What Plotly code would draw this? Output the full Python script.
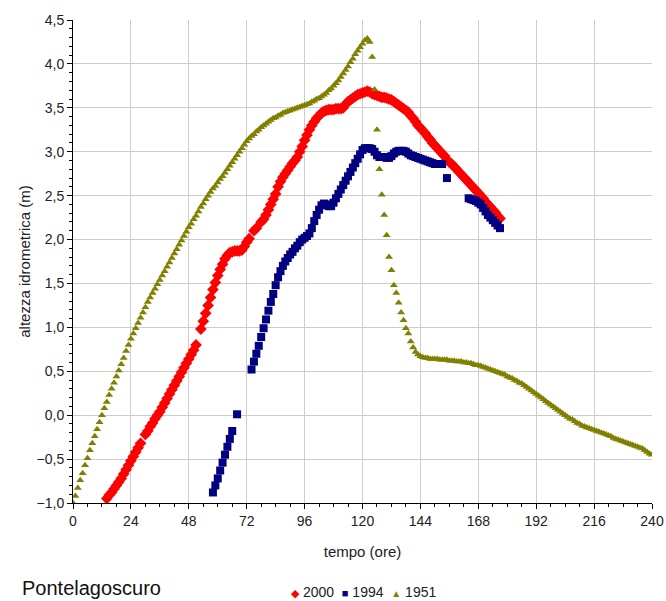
import plotly.graph_objects as go

# ---- data ----
hours_1951 = list(range(0, 241))
level_1951 = [
    -1.00, -0.92, -0.83, -0.74, -0.66, -0.57, -0.49, -0.40, -0.32, -0.24,
    -0.16, -0.08, 0.00, 0.08, 0.15, 0.23, 0.30, 0.37, 0.44, 0.51,
    0.58, 0.65, 0.73, 0.80, 0.87, 0.93, 0.99, 1.05, 1.11, 1.17,
    1.23, 1.29, 1.34, 1.39, 1.44, 1.49, 1.54, 1.59, 1.64, 1.69,
    1.74, 1.79, 1.84, 1.89, 1.94, 1.99, 2.04, 2.09, 2.14, 2.18,
    2.23, 2.27, 2.32, 2.37, 2.41, 2.46, 2.50, 2.54, 2.58, 2.61,
    2.65, 2.69, 2.72, 2.76, 2.80, 2.84, 2.88, 2.92, 2.96, 3.00,
    3.04, 3.08, 3.12, 3.15, 3.18, 3.20, 3.23, 3.25, 3.28, 3.30,
    3.32, 3.34, 3.36, 3.38, 3.39, 3.41, 3.42, 3.44, 3.45, 3.46,
    3.47, 3.48, 3.49, 3.50, 3.51, 3.52, 3.53, 3.54, 3.55, 3.57,
    3.58, 3.60, 3.61, 3.63, 3.65, 3.67, 3.70, 3.72, 3.75, 3.78,
    3.81, 3.85, 3.89, 3.93, 3.97, 4.02, 4.06, 4.11, 4.15, 4.19,
    4.23, 4.27, 4.29, 4.25, 4.08, 3.71, 3.25, 2.80, 2.51, 2.28,
    2.05, 1.80, 1.65, 1.48, 1.39, 1.28, 1.17, 1.08, 0.99, 0.93,
    0.84, 0.77, 0.72, 0.69, 0.67, 0.66, 0.65, 0.65, 0.64, 0.64,
    0.64, 0.64, 0.63, 0.63, 0.63, 0.63, 0.62, 0.62, 0.62, 0.61,
    0.61, 0.61, 0.60, 0.60, 0.59, 0.59, 0.58, 0.57, 0.57, 0.56,
    0.55, 0.54, 0.53, 0.52, 0.51, 0.50, 0.49, 0.48, 0.47, 0.46,
    0.44, 0.43, 0.42, 0.40, 0.39, 0.37, 0.36, 0.34, 0.32, 0.30,
    0.28, 0.26, 0.24, 0.22, 0.20, 0.18, 0.16, 0.14, 0.12, 0.10,
    0.08, 0.06, 0.04, 0.02, 0.00, -0.02, -0.04, -0.05, -0.07, -0.09,
    -0.10, -0.12, -0.13, -0.14, -0.15, -0.16, -0.17, -0.18, -0.19, -0.20,
    -0.21, -0.22, -0.23, -0.24, -0.26, -0.27, -0.28, -0.29, -0.30, -0.31,
    -0.32, -0.33, -0.34, -0.35, -0.36, -0.37, -0.38, -0.40, -0.42, -0.44,
    -0.45,
]

hours_2000 = (list(range(14, 29)) + list(range(30, 52)) + list(range(53, 74))
              + [75, 76] + list(range(78, 178)))
level_2000 = [
    # 14-28
    -0.95, -0.91, -0.88, -0.84, -0.80, -0.76, -0.72, -0.67, -0.62, -0.57,
    -0.52, -0.47, -0.42, -0.37, -0.32,
    # 30-51
    -0.22, -0.18, -0.13, -0.09, -0.04, 0.00, 0.04, 0.09, 0.14, 0.19,
    0.24, 0.29, 0.34, 0.39, 0.44, 0.49, 0.54, 0.59, 0.64, 0.69,
    0.74, 0.80,
    # 53-73
    0.98, 1.07, 1.16, 1.25, 1.34, 1.43, 1.51, 1.59, 1.66, 1.72,
    1.78, 1.82, 1.85, 1.86, 1.87, 1.87, 1.87, 1.88, 1.92, 1.97,
    2.01,
    # 75-76
    2.10, 2.13,
    # 78-177
    2.20, 2.23, 2.28, 2.34, 2.40, 2.46, 2.52, 2.60, 2.66, 2.71,
    2.75, 2.79, 2.83, 2.87, 2.90, 2.94, 3.00, 3.06, 3.13, 3.19,
    3.25, 3.30, 3.34, 3.38, 3.41, 3.44, 3.46, 3.47, 3.48, 3.48,
    3.48, 3.49, 3.49, 3.49, 3.50, 3.54, 3.57, 3.59, 3.61, 3.63,
    3.65, 3.66, 3.67, 3.68, 3.69, 3.68, 3.66, 3.65, 3.64, 3.63,
    3.62, 3.62, 3.61, 3.60, 3.59, 3.57, 3.55, 3.53, 3.51, 3.49,
    3.47, 3.45, 3.41, 3.38, 3.34, 3.30, 3.27, 3.24, 3.21, 3.17,
    3.14, 3.10, 3.07, 3.04, 3.01, 2.98, 2.95, 2.91, 2.88, 2.86,
    2.83, 2.80, 2.77, 2.74, 2.71, 2.68, 2.65, 2.62, 2.59, 2.56,
    2.53, 2.50, 2.47, 2.43, 2.40, 2.37, 2.34, 2.31, 2.27, 2.24,
]

hours_1994 = (list(range(58, 67)) + [68] + list(range(74, 154)) + [155]
              + list(range(164, 178)))
level_1994 = [
    # 58-66, 68
    -0.88, -0.80, -0.72, -0.63, -0.54, -0.45, -0.36, -0.27, -0.18, 0.01,
    # 74-153
    0.52, 0.61, 0.70, 0.79, 0.89, 0.99, 1.09, 1.19, 1.29, 1.38,
    1.48, 1.57, 1.64, 1.70, 1.75, 1.79, 1.83, 1.86, 1.90, 1.93,
    1.97, 2.00, 2.02, 2.04, 2.07, 2.13, 2.21, 2.28, 2.34, 2.39,
    2.41, 2.40, 2.38, 2.38, 2.42, 2.47, 2.52, 2.57, 2.62, 2.67,
    2.72, 2.77, 2.82, 2.87, 2.92, 2.97, 3.02, 3.04, 3.04, 3.04,
    3.03, 3.00, 2.96, 2.94, 2.94, 2.94, 2.93, 2.93, 2.95, 2.98,
    3.00, 3.01, 3.01, 3.01, 3.00, 2.98, 2.96, 2.95, 2.94, 2.93,
    2.92, 2.91, 2.90, 2.89, 2.88, 2.87, 2.86, 2.86, 2.86, 2.86,
    # 155
    2.70,
    # 164-177
    2.47, 2.46, 2.45, 2.44, 2.42, 2.40, 2.36, 2.32, 2.28, 2.25,
    2.22, 2.19, 2.16, 2.13,
]

series_names = ["2000", "1994", "1951"]
series_colors = ["#ff0000", "#000080", "#808000"]
x_ticks = list(range(0, 241, 24))
y_ticks = [-1.0, -0.5, 0.0, 0.5, 1.0, 1.5, 2.0, 2.5, 3.0, 3.5, 4.0, 4.5]

FONT = "Liberation Sans, Arial, sans-serif"

fig = go.Figure()
fig.add_trace(go.Scatter(x=hours_2000, y=level_2000, mode="markers", name=series_names[0],
                         marker=dict(symbol="diamond", color=series_colors[0], size=9,
                                     line=dict(width=0))))
fig.add_trace(go.Scatter(x=hours_1994, y=level_1994, mode="markers", name=series_names[1],
                         marker=dict(symbol="square", color=series_colors[1], size=8,
                                     line=dict(width=0))))
fig.add_trace(go.Scatter(x=hours_1951, y=level_1951, mode="markers", name=series_names[2],
                         marker=dict(symbol="triangle-up", color=series_colors[2], size=7,
                                     line=dict(width=0))))

axis_common = dict(
    showline=True, linecolor="black", linewidth=1,
    ticks="outside", ticklen=5, tickcolor="black", tickwidth=1,
    showgrid=True, gridcolor="#cccccc", gridwidth=1,
    zeroline=False, automargin=False,
    tickfont=dict(family=FONT, size=14, color="#222"),
)

legend_text = (
    f"<span style='color:{series_colors[0]};font-size:11px'>◆</span> {series_names[0]}  "
    f"<span style='color:{series_colors[1]};font-size:11px'>■</span> {series_names[1]}  "
    f"<span style='color:{series_colors[2]};font-size:10px'>▲</span> {series_names[2]}"
)

fig.update_layout(
    width=666, height=601,
    margin=dict(l=73, r=14, t=20, b=98, autoexpand=False),
    paper_bgcolor="white", plot_bgcolor="white",
    separators=",.",
    font=dict(family=FONT, color="#222"),
    xaxis=dict(axis_common, range=[0, 240], tickvals=x_ticks,
               title=dict(text="tempo (ore)", font=dict(size=15), standoff=18),
               minor=dict(dtick=6, ticks="outside", ticklen=3, tickcolor="black",
                          showgrid=False)),
    yaxis=dict(axis_common, range=[-1, 4.5], tickvals=y_ticks, tickformat=".1f",
               title=dict(text="altezza idrometrica (m)", font=dict(size=15), standoff=2),
               minor=dict(dtick=0.1, ticks="outside", ticklen=3, tickcolor="black",
                          showgrid=False)),
    showlegend=False,
    annotations=[
        dict(text="Pontelagoscuro", xref="paper", yref="paper",
             x=-53 / 579, y=-85 / 483, xanchor="left", yanchor="middle",
             showarrow=False, font=dict(family=FONT, size=20, color="#111")),
        dict(text=legend_text, xref="paper", yref="paper",
             x=(363 - 73) / 579, y=-89 / 483, xanchor="center", yanchor="middle",
             showarrow=False, font=dict(family=FONT, size=14, color="#222")),
    ],
)

fig.write_html("out.html", config={"displayModeBar": False},
               post_script="document.body.style.margin='0';document.body.style.overflow='hidden';")
